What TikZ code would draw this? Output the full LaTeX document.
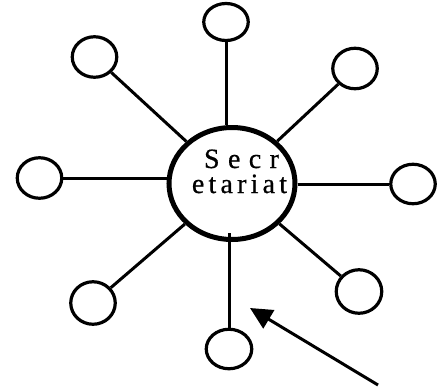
\documentclass[tikz,border=0pt]{standalone}
\usepackage{fontspec}
\setmainfont{Liberation Serif}
\newfontfamily\spacedserifA[LetterSpace=30,FakeBold=0.6]{Liberation Serif}
\newfontfamily\spacedserifB[LetterSpace=15,FakeBold=0.6]{Liberation Serif}
\usetikzlibrary{shapes.geometric,arrows.meta}
\tikzset{
  sat/.style={ellipse, draw, line width=3.2pt, inner sep=0pt, minimum width=44.5pt, minimum height=40.5pt},
  hub/.style={ellipse, draw, line width=5pt, inner sep=0pt, minimum width=126pt, minimum height=112pt},
  link/.style={line width=3pt},
  lbl/.style={inner sep=0pt, anchor=base, align=center, font=\fontsize{28}{25}\selectfont},
  pointer/.style={line width=3pt, -{Triangle[length=22pt,width=21pt]}}
}
\begin{document}
\begin{tikzpicture}[x=1pt,y=-1pt]
\useasboundingbox (0,0) rectangle (441,388);
\node[hub] (C) at (232,183.5) {};
\node[lbl] (t1) at (239.5,193) {\hspace*{4pt}{\spacedserifA Secr}\\{\spacedserifB etariat}};
\node[sat, minimum height=37pt] (T) at (226,22) {};
\node[sat] (TL) at (94.5,57) {};
\node[sat] (TR) at (355,68.5) {};
\node[sat] (L) at (39.5,178) {};
\node[sat, minimum height=39.5pt] (R) at (413,184) {};
\node[sat, minimum height=42.5pt] (BL) at (93,303) {};
\node[sat, minimum width=45.5pt, minimum height=43.5pt] (BR) at (359,291.5) {};
\node[sat, minimum width=45.5pt, minimum height=39.5pt] (B) at (229,349) {};
\draw[link] (T.south) -- (T.south |- C.north);
\draw[link] (TL) -- (C);
\draw[link] (TR) -- (C);
\draw[link] (L.east) -- (L.east -| C.west);
\draw[link] (R.west) -- (R.west -| C.east);
\draw[link] (BL) -- (C);
\draw[link] (BR) -- (C);
\draw[link] (B.north) -- ([yshift=9pt]B.north |- C.south);
\coordinate (tail) at (378,385);
\coordinate (tip) at (250,308);
\draw[pointer] (tail) -- (tip);
\end{tikzpicture}
\end{document}
